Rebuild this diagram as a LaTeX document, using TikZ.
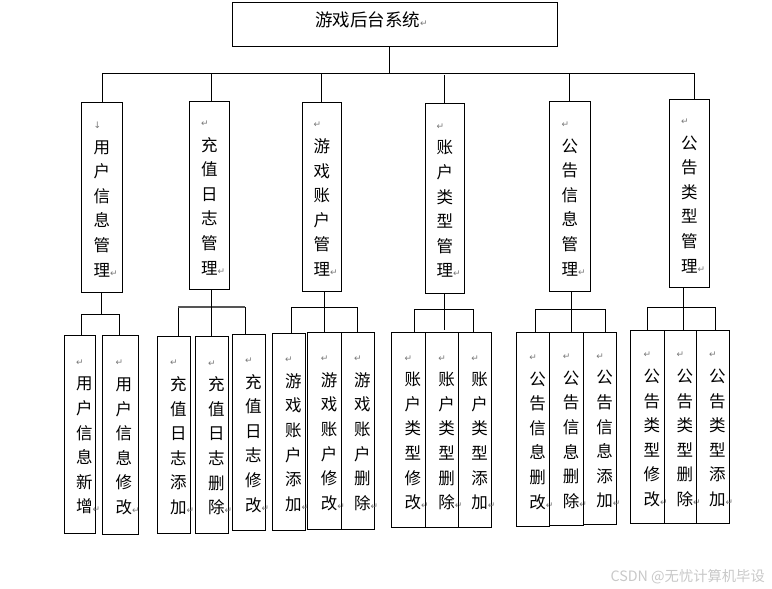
\documentclass[tikz,border=0pt]{standalone}
\usepackage{fontspec}
\newfontfamily\cjkfont{Noto Sans CJK SC}
\newfontfamily\symfont{DejaVu Sans}
\definecolor{markgray}{RGB}{120,120,120}
\definecolor{wmgray}{RGB}{200,200,200}
\definecolor{bargray}{RGB}{85,85,85}
\newcommand{\rmk}{{\symfont\fontsize{9}{9}\selectfont\textcolor{markgray}{↵}}}
\newcommand{\dmk}{{\symfont\fontsize{9}{9}\selectfont\textcolor{markgray}{↓}}}
\newcommand{\vcolumn}[3]{\hspace*{#1}\begin{tabular}{@{}l@{}}#2\\#3\rlap{\rmk}\end{tabular}}
\tikzset{
  rootbox/.style={draw, line width=1pt, inner sep=0pt},
  midbox/.style={draw, line width=1pt, inner sep=0pt, font=\cjkfont\fontsize{16.5}{24.6}\selectfont},
  childbox/.style={draw, line width=1pt, inner sep=0pt, font=\cjkfont\fontsize{16.5}{24.6}\selectfont},
  conn/.style={line width=1pt},
  graybar/.style={line width=1.5pt, draw=bargray},
}
\begin{document}
\begin{tikzpicture}[x=1pt,y=-1pt]
\useasboundingbox (0,0) rectangle (772,589);
% root
\node[rootbox, minimum width=324.5pt, minimum height=44.3pt] (root) at (394.75,24.15) {};
\node[font=\cjkfont\fontsize{17.5}{20}\selectfont, anchor=west, inner sep=0pt] (title) at (315,20) {游戏后台系统\rmk};
% middle level
\node[midbox, minimum width=41pt, minimum height=190pt] (m1) at (101.8,197.3) {\vcolumn{0pt}{\dmk}{用\\户\\信\\息\\管\\理}};
\node[midbox, minimum width=40pt, minimum height=188pt] (m2) at (209.3,195.3) {\vcolumn{0pt}{\rmk}{充\\值\\日\\志\\管\\理}};
\node[midbox, minimum width=39pt, minimum height=189pt] (m3) at (321.8,196.8) {\vcolumn{0pt}{\rmk}{游\\戏\\账\\户\\管\\理}};
\node[midbox, minimum width=39pt, minimum height=189.7pt] (m4) at (444.8,198.2) {\vcolumn{0pt}{\rmk}{账\\户\\类\\型\\管\\理}};
\node[midbox, minimum width=41pt, minimum height=190pt] (m5) at (569.8,196.3) {\vcolumn{0pt}{\rmk}{公\\告\\信\\息\\管\\理}};
\node[midbox, minimum width=40pt, minimum height=188pt] (m6) at (689.3,193.3) {\vcolumn{0pt}{\rmk}{公\\告\\类\\型\\管\\理}};
% children
\node[childbox, minimum width=31pt, minimum height=198.3pt] (c11) at (79.8,434.2) {\vcolumn{9pt}{\rmk}{用\\户\\信\\息\\新\\增}};
\node[childbox, minimum width=35.3pt, minimum height=199pt] (c12) at (120.35,434.8) {\vcolumn{7pt}{\rmk}{用\\户\\信\\息\\修\\改}};
\node[childbox, minimum width=33pt, minimum height=197pt] (c21) at (173.8,434.8) {\vcolumn{9pt}{\rmk}{充\\值\\日\\志\\添\\加}};
\node[childbox, minimum width=33pt, minimum height=196.6pt] (c22) at (211.8,435) {\vcolumn{9pt}{\rmk}{充\\值\\日\\志\\删\\除}};
\node[childbox, minimum width=33pt, minimum height=196.7pt] (c23) at (248.8,432.35) {\vcolumn{9pt}{\rmk}{充\\值\\日\\志\\修\\改}};
\node[childbox, minimum width=33pt, minimum height=196.7pt] (c31) at (288.8,431.65) {\vcolumn{9pt}{\rmk}{游\\戏\\账\\户\\添\\加}};
\node[childbox, minimum width=33.6pt, minimum height=196.7pt] (c32) at (324.5,430.65) {\vcolumn{9pt}{\rmk}{游\\戏\\账\\户\\修\\改}};
\node[childbox, minimum width=33pt, minimum height=196.7pt] (c33) at (357.8,430.65) {\vcolumn{9pt}{\rmk}{游\\戏\\账\\户\\删\\除}};
\node[childbox, minimum width=34pt, minimum height=195.4pt] (c41) at (408.3,430) {\vcolumn{9pt}{\rmk}{账\\户\\类\\型\\修\\改}};
\node[childbox, minimum width=33.4pt, minimum height=195.4pt] (c42) at (442,430) {\vcolumn{9pt}{\rmk}{账\\户\\类\\型\\删\\除}};
\node[childbox, minimum width=33pt, minimum height=195.4pt] (c43) at (475.2,430) {\vcolumn{9pt}{\rmk}{账\\户\\类\\型\\添\\加}};
\node[childbox, minimum width=33.4pt, minimum height=194pt] (c51) at (533,429.3) {\vcolumn{9pt}{\rmk}{公\\告\\信\\息\\删\\改}};
\node[childbox, minimum width=34pt, minimum height=193.3pt] (c52) at (566.7,428.65) {\vcolumn{9pt}{\rmk}{公\\告\\信\\息\\删\\除}};
\node[childbox, minimum width=32.6pt, minimum height=192.3pt] (c53) at (600,428.15) {\vcolumn{9pt}{\rmk}{公\\告\\信\\息\\添\\加}};
\node[childbox, minimum width=34pt, minimum height=193pt] (c61) at (647.3,426.8) {\vcolumn{9pt}{\rmk}{公\\告\\类\\型\\修\\改}};
\node[childbox, minimum width=32pt, minimum height=193pt] (c62) at (680.3,426.8) {\vcolumn{9pt}{\rmk}{公\\告\\类\\型\\删\\除}};
\node[childbox, minimum width=33pt, minimum height=193pt] (c63) at (712.8,426.8) {\vcolumn{9pt}{\rmk}{公\\告\\类\\型\\添\\加}};
% top connectors
\coordinate (bus) at (0,73);
\draw[conn] ([xshift=-5pt]root.south) -- ([xshift=-5pt]root.south |- bus);
\draw[conn] ([xshift=1pt]m1.north |- bus) -- ([xshift=5pt]m6.north |- bus);
\draw[conn] ([xshift=1pt]m1.north |- bus) -- ([xshift=1pt]m1.north);
\draw[conn] ([xshift=2.5pt]m2.north |- bus) -- ([xshift=2.5pt]m2.north);
\draw[conn] (m3.north |- bus) -- (m3.north);
\draw[conn] ([yshift=-2pt]m4.north |- bus) -- (m4.north);
\draw[conn] (m5.north |- bus) -- (m5.north);
\draw[conn] ([xshift=5pt]m6.north |- bus) -- ([xshift=5pt]m6.north);
% group 1
\coordinate (g1) at (0,314);
\draw[conn] (m1.south) -- (m1.south |- g1);
\draw[conn] ([xshift=2pt]c11.north) |- ([xshift=-1pt]c12.north |- g1) -- ([xshift=-1pt]c12.north);
% group 2
\coordinate (g2) at (0,307);
\draw[conn] ([xshift=4.5pt]c21.north) -- ([xshift=4.5pt]c21.north |- g2);
\draw[conn] ([xshift=-3.5pt]c23.north) -- ([xshift=-3.5pt]c23.north |- g2);
\draw[graybar] ([xshift=4.5pt]c21.north |- g2) -- ([xshift=-3.5pt]c23.north |- g2);
\draw[conn] (c22.north |- m2.south) -- (c22.north);
% group 3
\coordinate (g3) at (0,307.7);
\draw[conn] ([xshift=3pt]c31.north) |- (c33.north |- g3) -- (c33.north);
\draw[conn] (c32.north |- m3.south) -- (c32.north);
% group 4
\coordinate (g4) at (0,309.3);
\draw[conn] ([xshift=6.4pt]c41.north) |- ([xshift=-1.5pt]c43.north |- g4) -- ([xshift=-1.5pt]c43.north);
\draw[conn] (m4.south) -- ([yshift=1.5pt]m4.south |- c42.north);
% group 5
\coordinate (g5) at (0,309.3);
\draw[conn] ([xshift=2pt]c51.north) |- ([xshift=5.3pt]c53.north |- g5) -- ([xshift=5.3pt]c53.north);
\draw[conn] ([xshift=1.5pt]m5.south) -- ([xshift=1.5pt]m5.south |- c52.north);
% group 6
\coordinate (g6) at (0,307);
\draw[conn] (c61.north) |- ([xshift=2.5pt]c63.north |- g6) -- ([xshift=2.5pt]c63.north);
\draw[conn] ([xshift=-6pt]m6.south) -- ([xshift=-6pt]m6.south |- c62.north);
% watermark
\node[anchor=east, text=wmgray, font=\cjkfont\fontsize{14.3}{16}\selectfont, inner sep=0pt] (wm) at (765,577) {CSDN @无忧计算机毕设};
\end{tikzpicture}
\end{document}
